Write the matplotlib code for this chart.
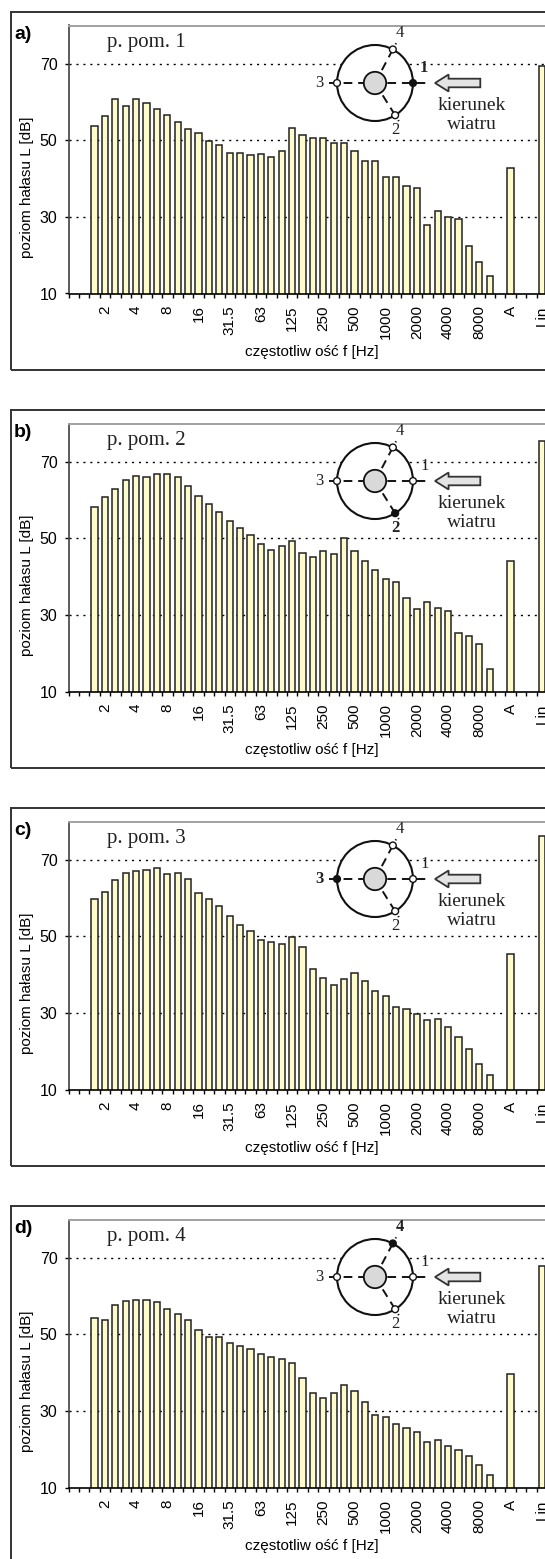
import numpy as np
import matplotlib
matplotlib.use('Agg')
import matplotlib.pyplot as plt
from matplotlib.patches import Circle, Rectangle, Polygon

W, H = 545, 1559

# pasma tercjowe 1.6 Hz ... 10 kHz
freq_labels = ['1.6', '2', '2.5', '3.15', '4', '5', '6.3', '8', '10', '12.5', '16', '20',
               '25', '31.5', '40', '50', '63', '80', '100', '125', '160', '200', '250', '315',
               '400', '500', '630', '800', '1000', '1250', '1600', '2000', '2500', '3150',
               '4000', '5000', '6300', '8000', '10000']
shown_labels = ['2', '4', '8', '16', '31.5', '63', '125', '250', '500', '1000', '2000',
                '4000', '8000']

panel_letters = ['a)', 'b)', 'c)', 'd)']
panel_titles = ['p. pom. 1', 'p. pom. 2', 'p. pom. 3', 'p. pom. 4']
active_points = [1, 2, 3, 4]

levels_1 = [53.8, 56.4, 60.9, 59.0, 60.9, 59.7, 58.3, 56.7, 54.8, 52.9, 51.8, 49.8, 48.7,
            46.8, 46.8, 46.1, 46.4, 45.7, 47.2, 53.3, 51.4, 50.7, 50.7, 49.2, 49.2, 47.2,
            44.6, 44.6, 40.3, 40.3, 38.1, 37.6, 27.8, 31.6, 30.1, 29.4, 22.5, 18.3, 14.5]
levels_2 = [58.1, 60.7, 63.0, 65.2, 66.3, 66.0, 66.7, 66.7, 65.9, 63.7, 61.0, 59.1, 56.9,
            54.6, 52.7, 50.8, 48.5, 47.0, 48.1, 49.2, 46.3, 45.1, 46.6, 45.9, 50.2, 46.6,
            44.0, 41.7, 39.4, 38.7, 34.4, 31.5, 33.3, 31.8, 31.1, 25.3, 24.6, 22.3, 15.9]
levels_3 = [59.8, 61.7, 64.7, 66.6, 67.0, 67.4, 67.8, 66.2, 66.6, 65.1, 61.3, 59.7, 57.9,
            55.2, 52.9, 51.3, 49.1, 48.4, 47.9, 49.8, 47.1, 41.4, 39.2, 37.2, 38.8, 40.3,
            38.4, 35.7, 34.5, 31.5, 31.1, 29.6, 28.1, 28.5, 26.2, 23.6, 20.5, 16.6, 13.7]
levels_4 = [54.2, 53.7, 57.6, 58.7, 59.1, 59.1, 58.4, 56.5, 55.3, 53.7, 51.1, 49.2, 49.2,
            47.7, 46.9, 46.1, 45.0, 44.2, 43.5, 42.4, 38.5, 34.7, 33.5, 34.7, 36.9, 35.1,
            32.4, 29.0, 28.3, 26.6, 25.5, 24.4, 21.8, 22.5, 20.9, 19.8, 18.3, 15.9, 13.3]
levels_A = [42.7, 44.0, 45.3, 39.7]
levels_Lin = [69.3, 75.5, 76.2, 67.9]

all_levels = [levels_1, levels_2, levels_3, levels_4]

SANS = 'Liberation Sans'
SERIF = 'Liberation Serif'
BAR_COLOR = '#fdfbcc'

fig = plt.figure(figsize=(W / 100, H / 100), dpi=100)


def frect(x, y, w, h):
    return [x / W, 1 - (y + h) / H, w / W, h / H]


def px(x, y):
    return x / W, 1 - y / H


slot = 10.4
ax_left = 68.5
n_slots = 47

frame_tops = [12, 410, 808, 1206]

for k in range(4):
    ft = frame_tops[k]
    fig.patches.append(Rectangle(px(10.5, ft + 358), 600 / W, 358 / H, transform=fig.transFigure,
                                 fill=False, edgecolor='#333333', lw=1.4))

    ax = fig.add_axes(frect(ax_left, ft + 13.5, n_slots * slot, 268))
    pos_f = np.arange(len(freq_labels)) + 2
    ax.bar(pos_f, all_levels[k], width=0.58, bottom=0, color=BAR_COLOR,
           edgecolor='#222222', linewidth=1.1, zorder=2)
    ax.bar([42, 45], [levels_A[k], levels_Lin[k]], width=0.58, color=BAR_COLOR,
           edgecolor='#222222', linewidth=1.1, zorder=2)
    for g in [30, 50, 70]:
        ax.axhline(g, color='black', lw=1.0, linestyle=(0, (1.5, 3.5)), zorder=0)
    ax.set_xlim(-0.5, n_slots - 0.5)
    ax.set_ylim(10, 80)

    tick_pos = [freq_labels.index(s) + 2 for s in shown_labels] + [42, 45]
    ax.set_xticks(tick_pos, shown_labels + ['A', 'Lin'], rotation=90,
                  fontsize=11, family=SANS)
    ax.set_xticks(np.arange(-0.5, n_slots, 1), minor=True)
    ax.tick_params(axis='x', which='major', length=0, pad=8.6)
    ax.tick_params(axis='x', which='minor', length=3, width=1, direction='out')
    ax.set_yticks([10, 30, 50, 70])
    ax.set_yticklabels(['10', '30', '50', '70'], fontsize=11.5, family=SANS)
    ax.tick_params(axis='y', length=3, width=1, pad=5)

    ax.spines['right'].set_visible(False)
    ax.spines['top'].set_color('#a0a0a0')
    ax.spines['top'].set_linewidth(1.4)
    ax.spines['left'].set_color('#404040')
    ax.spines['left'].set_linewidth(1.2)
    ax.spines['bottom'].set_linewidth(1.2)

    fig.text(*px(27.5, ft + 175), 'poziom hałasu L [dB]', rotation=90, ha='center',
             va='center', fontsize=11, family=SANS)
    fig.text(*px(312, ft + 340), 'częstotliw ość f [Hz]', ha='center', va='center',
             fontsize=11, family=SANS)
    fig.text(*px(14, ft + 14), panel_letters[k], ha='left', va='top', fontsize=14,
             fontweight='bold', family=SANS)
    fig.text(*px(107, ft + 35), panel_titles[k], ha='left', va='baseline', fontsize=15,
             family=SERIF, color='#222222')

    # szkic z punktami pomiarowymi i kierunkiem wiatru
    cx, cy = 375, ft + 71
    ia = fig.add_axes(frect(cx - 65, cy - 58, 205, 116))
    ia.set_xlim(-65, 140)
    ia.set_ylim(-58, 58)
    ia.axis('off')
    ia.patch.set_alpha(0)

    ia.add_patch(Circle((0, 0), 38, facecolor='white', edgecolor='#111111', lw=1.5, zorder=1))
    dash = (0, (4.5, 3))
    ia.plot([-46, 51], [0, 0], color='#111111', lw=1.4, linestyle=dash, zorder=2)
    a4 = np.deg2rad(62)
    a2 = np.deg2rad(-58)
    for a in [a4, a2]:
        ia.plot([0, 45 * np.cos(a)], [0, 45 * np.sin(a)], color='#111111', lw=1.4,
                linestyle=dash, zorder=2)
    ia.add_patch(Circle((0, 0), 11.2, facecolor='#d9d9d9', edgecolor='#111111', lw=1.3,
                        zorder=3))
    pts = {1: (38, 0), 2: (38 * np.cos(a2), 38 * np.sin(a2)), 3: (-38, 0),
           4: (38 * np.cos(a4), 38 * np.sin(a4))}
    lbl = {1: (49.3, 15), 2: (20.3, -46.6), 3: (-55.4, 0), 4: (25.3, 50)}
    for n in [1, 2, 3, 4]:
        act = n == active_points[k]
        ia.add_patch(Circle(pts[n], 3.4, facecolor='#111111' if act else 'white',
                            edgecolor='#111111', lw=1.0, zorder=4))
        ia.text(*lbl[n], str(n), ha='center', va='center', fontsize=12, family=SERIF,
                fontweight='bold' if act else 'normal', color='#222222', zorder=5)

    arrow = [(60, 0), (73.6, 8.5), (73.6, 4.3), (105.3, 4.3), (105.3, -4.3),
             (73.6, -4.3), (73.6, -8.5)]
    ia.add_patch(Polygon(arrow, closed=True, facecolor='#e4e4e4', edgecolor='#333333',
                         lw=1.3, zorder=3))
    ia.text(97, -23, 'kierunek', ha='center', va='center', fontsize=14, family=SERIF,
            color='#222222')
    ia.text(96.5, -41.5, 'wiatru', ha='center', va='center', fontsize=14, family=SERIF,
            color='#222222')

fig.savefig('out.png', dpi=100)
